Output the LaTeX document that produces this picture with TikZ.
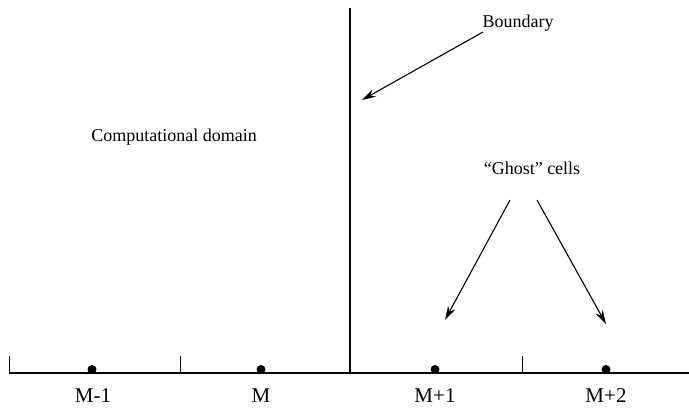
\documentclass[tikz,border=0pt]{standalone}
\usepackage{fontspec}
\setmainfont{Liberation Serif}
\usetikzlibrary{arrows.meta}
\begin{document}
\begin{tikzpicture}[x=1pt,y=-1pt,
  lbl/.style={font=\fontsize{18}{20}\selectfont, inner sep=0pt, anchor=base},
  cell/.style={font=\fontsize{21}{24}\selectfont, inner sep=0pt, anchor=base},
  axis/.style={line width=1.3pt},
  tick/.style={line width=0.9pt},
  pointer/.style={line width=1.1pt, -{Stealth[length=14pt,width=8pt]}},
  dot/.style={circle, fill=black, inner sep=0pt, minimum size=9pt}]
\useasboundingbox (0,0) rectangle (689,408);
% axis
\coordinate (a0) at (9,373);
\coordinate (a1) at (689,373);
\draw[axis] (a0) -- (a1);
\coordinate (t0) at (9,356);
\coordinate (t1) at (180,356);
\coordinate (t1b) at (180,373);
\coordinate (t3) at (522,356);
\coordinate (t3b) at (522,373);
\draw[tick] (t0) -- (a0);
\draw[tick] (t1) -- (t1b);
\draw[tick] (t3) -- (t3b);
% boundary
\coordinate (b0) at (350,8);
\coordinate (b1) at (350,373);
\draw[axis] (b0) -- (b1);
% dots
\node[dot] (d1) at (92,369.5) {};
\node[dot] (d2) at (261,369.5) {};
\node[dot] (d3) at (435,369.5) {};
\node[dot] (d4) at (606,369.5) {};
% labels
\node[cell] (l1) at (93,402) {M-1};
\node[cell] (l2) at (261,402) {M};
\node[cell] (l3) at (435,402) {M+1};
\node[cell] (l4) at (606,402) {M+2};
\node[lbl] (cd) at (174,141) {Computational domain};
\node[lbl] (bd) at (518,27) {Boundary};
\node[lbl] (gc) at (532,174) {``Ghost'' cells};
% arrows
\coordinate (bs) at (483,32);
\coordinate (be) at (362,100);
\draw[pointer] (bs) -- (be);
\coordinate (g1s) at (510,200);
\coordinate (g1e) at (445,320);
\coordinate (g2s) at (537,200);
\coordinate (g2e) at (606,324);
\draw[pointer] (g1s) -- (g1e);
\draw[pointer] (g2s) -- (g2e);
\end{tikzpicture}
\end{document}
